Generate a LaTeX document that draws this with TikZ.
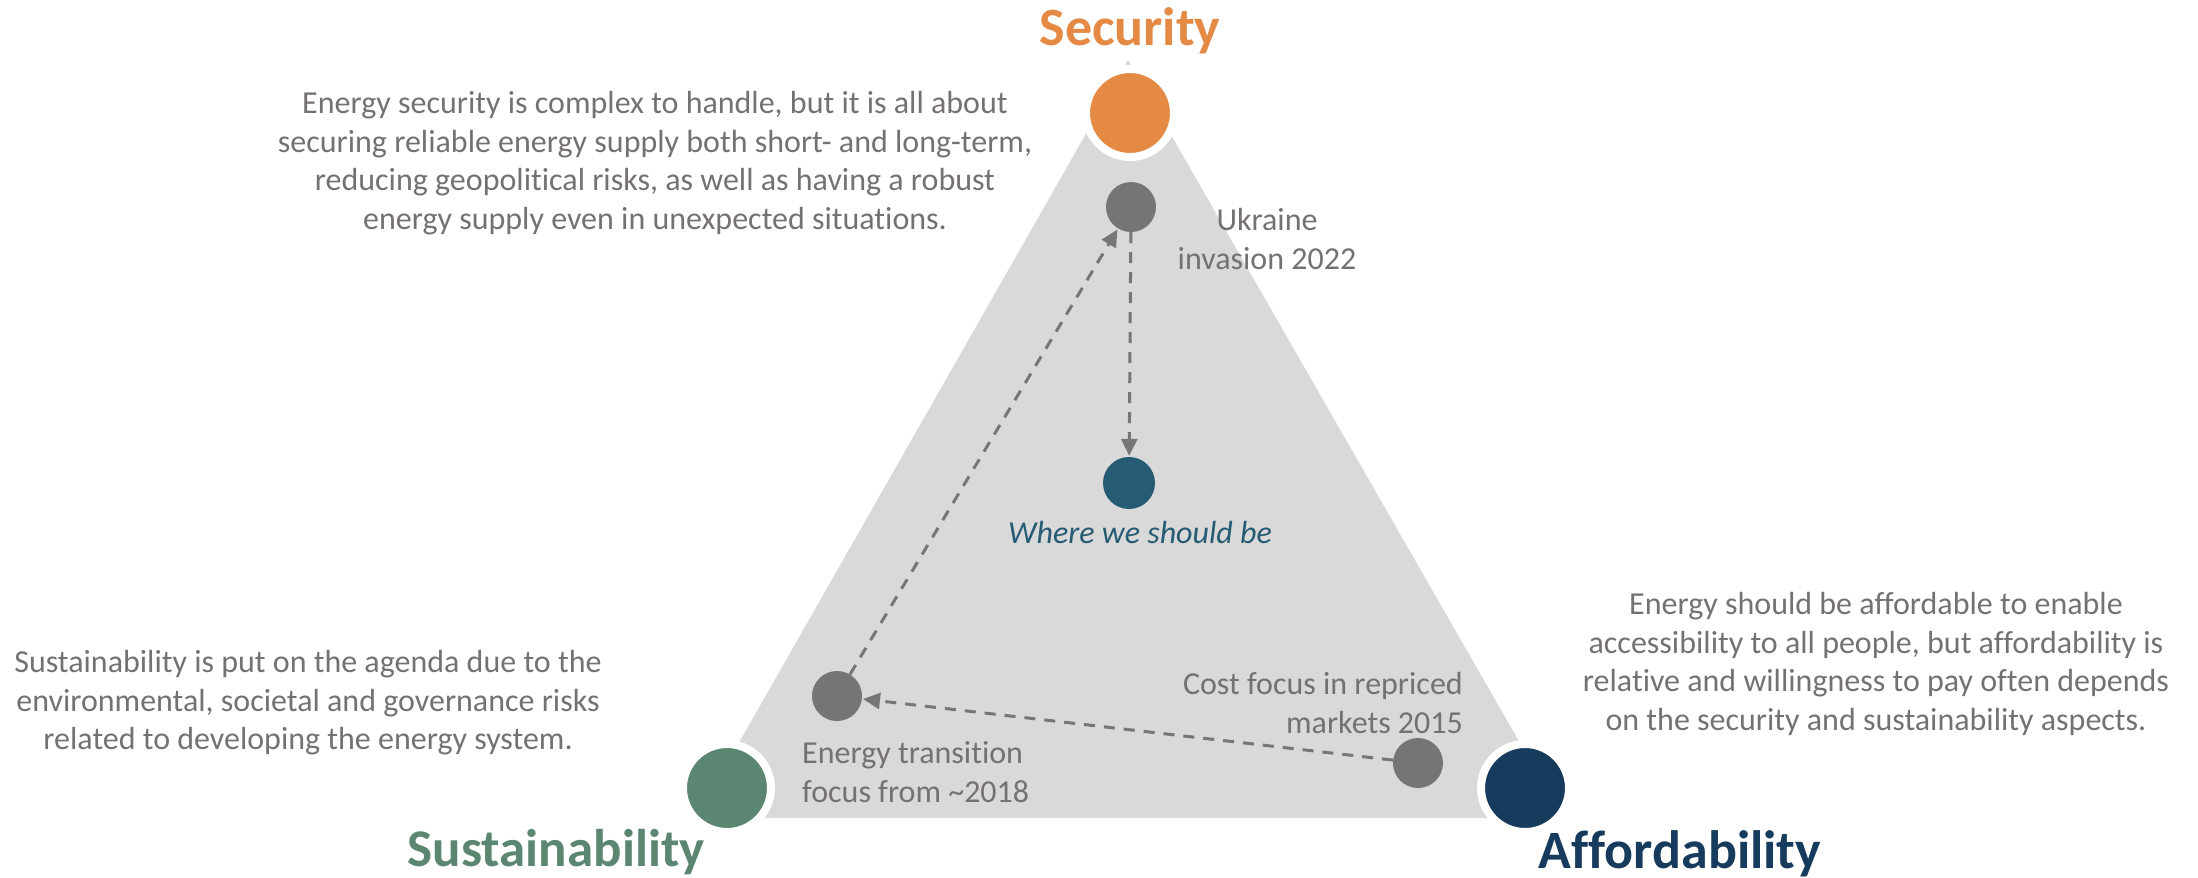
\documentclass[tikz,border=0pt]{standalone}
\usepackage{fontspec}
\setmainfont{Carlito}[Ligatures=NoCommon]
\usetikzlibrary{arrows.meta}
\definecolor{secorange}{HTML}{E48A45}
\definecolor{susgreen}{HTML}{5B8671}
\definecolor{affnavy}{HTML}{173B5C}
\definecolor{wheredot}{HTML}{265B74}
\definecolor{dotgray}{HTML}{757575}
\definecolor{txtgray}{HTML}{767171}
\definecolor{trigray}{HTML}{D9D9D9}
\definecolor{arrgray}{HTML}{767676}
\tikzset{
  bigdot/.style={circle, minimum size=88pt, inner sep=0pt, draw=white, line width=8pt},
  smalldot/.style={circle, minimum size=50pt, inner sep=0pt, fill=dotgray},
  body/.style={text=txtgray, font=\fontsize{32}{38.5}\selectfont, inner sep=0pt},
  title/.style={font=\bfseries\fontsize{54}{62}\selectfont, inner sep=0pt, anchor=base},
  flow/.style={draw=arrgray, line width=3pt, dash pattern=on 11pt off 9pt,
    -{Triangle[length=17pt,width=16pt]}, shorten >=1pt},
}
\begin{document}
\begin{tikzpicture}[x=1pt,y=-1pt]
\useasboundingbox (0,0) rectangle (2198,878);
% triangle
\fill[trigray] (1128,60) -- (1563,818) -- (696,818) -- cycle;
% corner circles
\node[bigdot, fill=secorange] (sec) at (1130,113) {};
\node[bigdot, fill=susgreen] (sus) at (727,788) {};
\node[bigdot, fill=affnavy] (aff) at (1525,788) {};
% titles
\node[title, text=secorange] (sect) at (1130,45) {Security};
\node[title, text=susgreen, font=\bfseries\fontsize{53}{62}\selectfont] (sust) at (556,866) {Sustainability};
\node[title, text=affnavy] (afft) at (1680,868) {Affordability};
% inner dots
\node[smalldot] (ukr) at (1131,207) {};
\node[smalldot, fill=wheredot, minimum size=52pt] (where) at (1129,483) {};
\node[smalldot] (ent) at (837,696) {};
\node[smalldot] (cost) at (1418,763) {};
% connectors
\draw[flow] (ukr) -- (where);
\draw[flow] (ent) -- (ukr);
\draw[flow] (cost) -- (ent);
% labels
\node[body, align=center] (ukrl) at (1267,239) {Ukraine\\invasion 2022};
\node[body, text=wheredot, font=\itshape\fontsize{32}{38.5}\selectfont] (wherel) at (1140,533) {Where we should be};
\node[body, align=right, anchor=east] (costl) at (1463,703) {Cost focus in repriced\\markets 2015};
\node[body, align=left, anchor=west] (entl) at (802,772) {Energy transition\\focus from \textasciitilde 2018};
% descriptions
\node[body, align=center] (secd) at (655,163) {Energy security is complex to handle, but it is all about\\securing reliable energy supply both short- and long-term,\\reducing geopolitical risks, as well as having a robust\\energy supply even in unexpected situations.};
\node[body, align=center] (affd) at (1876,664) {Energy should be affordable to enable\\accessibility to all people, but affordability is\\relative and willingness to pay often depends\\on the security and sustainability aspects.};
\node[body, align=center] (susd) at (308,703) {Sustainability is put on the agenda due to the\\environmental, societal and governance risks\\related to developing the energy system.};
\end{tikzpicture}
\end{document}
